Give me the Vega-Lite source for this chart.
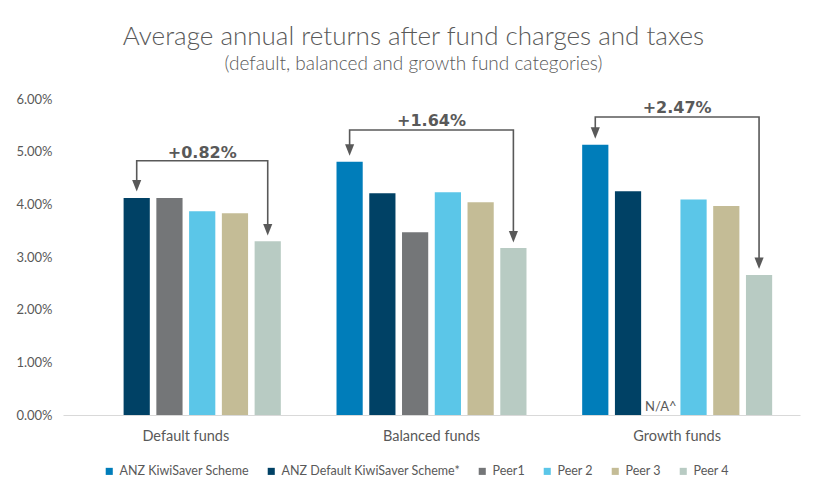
{
  "$schema": "https://vega.github.io/schema/vega-lite/v6.json",
  "width": 737,
  "height": 316,
  "autosize": {"type": "none"},
  "padding": {"left": 63, "top": 99, "right": 28, "bottom": 83},
  "background": "white",
  "title": {
    "text": "Average annual returns after fund charges and taxes",
    "subtitle": "(default, balanced and growth fund categories)",
    "anchor": "middle",
    "frame": "group",
    "dx": -18,
    "offset": 19,
    "font": "Lato",
    "fontSize": 26,
    "fontWeight": 300,
    "color": "#595959",
    "subtitleFont": "Lato",
    "subtitleFontSize": 19,
    "subtitleFontWeight": 300,
    "subtitleColor": "#595959",
    "subtitlePadding": 5
  },
  "datasets": {
    "bars": [
      {"category": "Default funds", "fund": "ANZ Default KiwiSaver Scheme*", "value": 0.0412},
      {"category": "Default funds", "fund": "Peer1", "value": 0.0412},
      {"category": "Default funds", "fund": "Peer 2", "value": 0.0387},
      {"category": "Default funds", "fund": "Peer 3", "value": 0.0383},
      {"category": "Default funds", "fund": "Peer 4", "value": 0.0330},
      {"category": "Balanced funds", "fund": "ANZ KiwiSaver Scheme", "value": 0.0481},
      {"category": "Balanced funds", "fund": "ANZ Default KiwiSaver Scheme*", "value": 0.0421},
      {"category": "Balanced funds", "fund": "Peer1", "value": 0.0347},
      {"category": "Balanced funds", "fund": "Peer 2", "value": 0.0423},
      {"category": "Balanced funds", "fund": "Peer 3", "value": 0.0404},
      {"category": "Balanced funds", "fund": "Peer 4", "value": 0.0317},
      {"category": "Growth funds", "fund": "ANZ KiwiSaver Scheme", "value": 0.0513},
      {"category": "Growth funds", "fund": "ANZ Default KiwiSaver Scheme*", "value": 0.0425},
      {"category": "Growth funds", "fund": "Peer 2", "value": 0.0409},
      {"category": "Growth funds", "fund": "Peer 3", "value": 0.0397},
      {"category": "Growth funds", "fund": "Peer 4", "value": 0.0266}
    ],
    "brackets": [
      {"category": "Default funds", "fund": "ANZ Default KiwiSaver Scheme*", "y": 0.04354, "step": 1},
      {"category": "Default funds", "fund": "ANZ Default KiwiSaver Scheme*", "y": 0.04828, "step": 2},
      {"category": "Default funds", "fund": "Peer 4", "y": 0.04828, "step": 3},
      {"category": "Default funds", "fund": "Peer 4", "y": 0.03518, "step": 4},
      {"category": "Balanced funds", "fund": "ANZ KiwiSaver Scheme", "y": 0.05031, "step": 1},
      {"category": "Balanced funds", "fund": "ANZ KiwiSaver Scheme", "y": 0.05411, "step": 2},
      {"category": "Balanced funds", "fund": "Peer 4", "y": 0.05411, "step": 3},
      {"category": "Balanced funds", "fund": "Peer 4", "y": 0.03385, "step": 4},
      {"category": "Growth funds", "fund": "ANZ KiwiSaver Scheme", "y": 0.05354, "step": 1},
      {"category": "Growth funds", "fund": "ANZ KiwiSaver Scheme", "y": 0.05658, "step": 2},
      {"category": "Growth funds", "fund": "Peer 4", "y": 0.05658, "step": 3},
      {"category": "Growth funds", "fund": "Peer 4", "y": 0.02880, "step": 4}
    ],
    "diffs": [
      {"category": "Default funds", "fund": "Peer 2", "y": 0.0498, "label": "+0.82%"},
      {"category": "Balanced funds", "y": 0.05588, "label": "+1.64%"},
      {"category": "Growth funds", "y": 0.05829, "label": "+2.47%"}
    ],
    "notes": [
      {"category": "Growth funds", "fund": "Peer1", "y": 0, "label": "N/A^"}
    ]
  },
  "encoding": {
    "x": {
      "field": "category",
      "type": "nominal",
      "sort": ["Default funds", "Balanced funds", "Growth funds"],
      "scale": {"paddingInner": 0.2, "paddingOuter": 0.1},
      "axis": {
        "title": null,
        "labelAngle": 0,
        "ticks": false,
        "domainColor": "#D9D9D9",
        "domainWidth": 1,
        "labelFont": "Lato",
        "labelFontSize": 14.5,
        "labelColor": "#595959",
        "labelPadding": 14
      }
    }
  },
  "layer": [
    {
      "data": {"name": "bars"},
      "mark": {"type": "bar"},
      "encoding": {
        "xOffset": {
          "field": "fund",
          "type": "nominal",
          "scale": {
            "domain": ["ANZ KiwiSaver Scheme", "ANZ Default KiwiSaver Scheme*", "Peer1", "Peer 2", "Peer 3", "Peer 4"],
            "paddingInner": 0.2,
            "paddingOuter": 0.1
          }
        },
        "y": {
          "field": "value",
          "type": "quantitative",
          "scale": {"domain": [0, 0.06], "nice": false},
          "axis": {
            "title": null,
            "format": ".2%",
            "values": [0, 0.01, 0.02, 0.03, 0.04, 0.05, 0.06],
            "grid": false,
            "domain": false,
            "ticks": false,
            "labelFont": "Lato",
            "labelFontSize": 13,
            "labelColor": "#595959",
            "labelPadding": 11
          }
        },
        "color": {
          "field": "fund",
          "type": "nominal",
          "scale": {
            "domain": ["ANZ KiwiSaver Scheme", "ANZ Default KiwiSaver Scheme*", "Peer1", "Peer 2", "Peer 3", "Peer 4"],
            "range": ["#007DBA", "#004165", "#747678", "#5BC6E8", "#C4BC96", "#B8CBC3"]
          },
          "legend": {
            "title": null,
            "orient": "none",
            "direction": "horizontal",
            "columns": 6,
            "legendX": 40,
            "legendY": 366,
            "symbolType": "square",
            "symbolSize": 50,
            "symbolStrokeWidth": 0,
            "labelFont": "Lato",
            "labelFontSize": 12.5,
            "labelColor": "#595959",
            "labelOffset": 4,
            "labelLimit": 400,
            "columnPadding": 16
          }
        }
      }
    },
    {
      "data": {"name": "brackets"},
      "mark": {"type": "line", "color": "#595959", "strokeWidth": 1.6},
      "encoding": {
        "xOffset": {"field": "fund", "type": "nominal"},
        "y": {"field": "y", "type": "quantitative"},
        "detail": {"field": "category", "type": "nominal"},
        "order": {"field": "step", "type": "quantitative"}
      }
    },
    {
      "data": {"name": "brackets"},
      "transform": [{"filter": "datum.step == 1 || datum.step == 4"}],
      "mark": {"type": "point", "shape": "M-0.8,-1L0.8,-1L0,1Z", "size": 130, "filled": true, "color": "#595959", "opacity": 1},
      "encoding": {
        "xOffset": {"field": "fund", "type": "nominal"},
        "y": {"field": "y", "type": "quantitative"}
      }
    },
    {
      "data": {"name": "diffs"},
      "transform": [{"filter": "datum.category == 'Default funds'"}],
      "mark": {"type": "text", "font": "DejaVu Sans", "fontWeight": "bold", "fontSize": 16, "color": "#595959", "baseline": "middle"},
      "encoding": {
        "xOffset": {"field": "fund", "type": "nominal"},
        "y": {"field": "y", "type": "quantitative"},
        "text": {"field": "label"}
      }
    },
    {
      "data": {"name": "diffs"},
      "transform": [{"filter": "datum.category != 'Default funds'"}],
      "mark": {"type": "text", "font": "DejaVu Sans", "fontWeight": "bold", "fontSize": 16, "color": "#595959", "baseline": "middle"},
      "encoding": {
        "y": {"field": "y", "type": "quantitative"},
        "text": {"field": "label"}
      }
    },
    {
      "data": {"name": "notes"},
      "mark": {"type": "text", "font": "Lato", "fontSize": 13, "color": "#595959", "baseline": "bottom", "dy": -1},
      "encoding": {
        "xOffset": {"field": "fund", "type": "nominal"},
        "y": {"field": "y", "type": "quantitative"},
        "text": {"field": "label"}
      }
    }
  ],
  "config": {
    "view": {"stroke": null}
  }
}
